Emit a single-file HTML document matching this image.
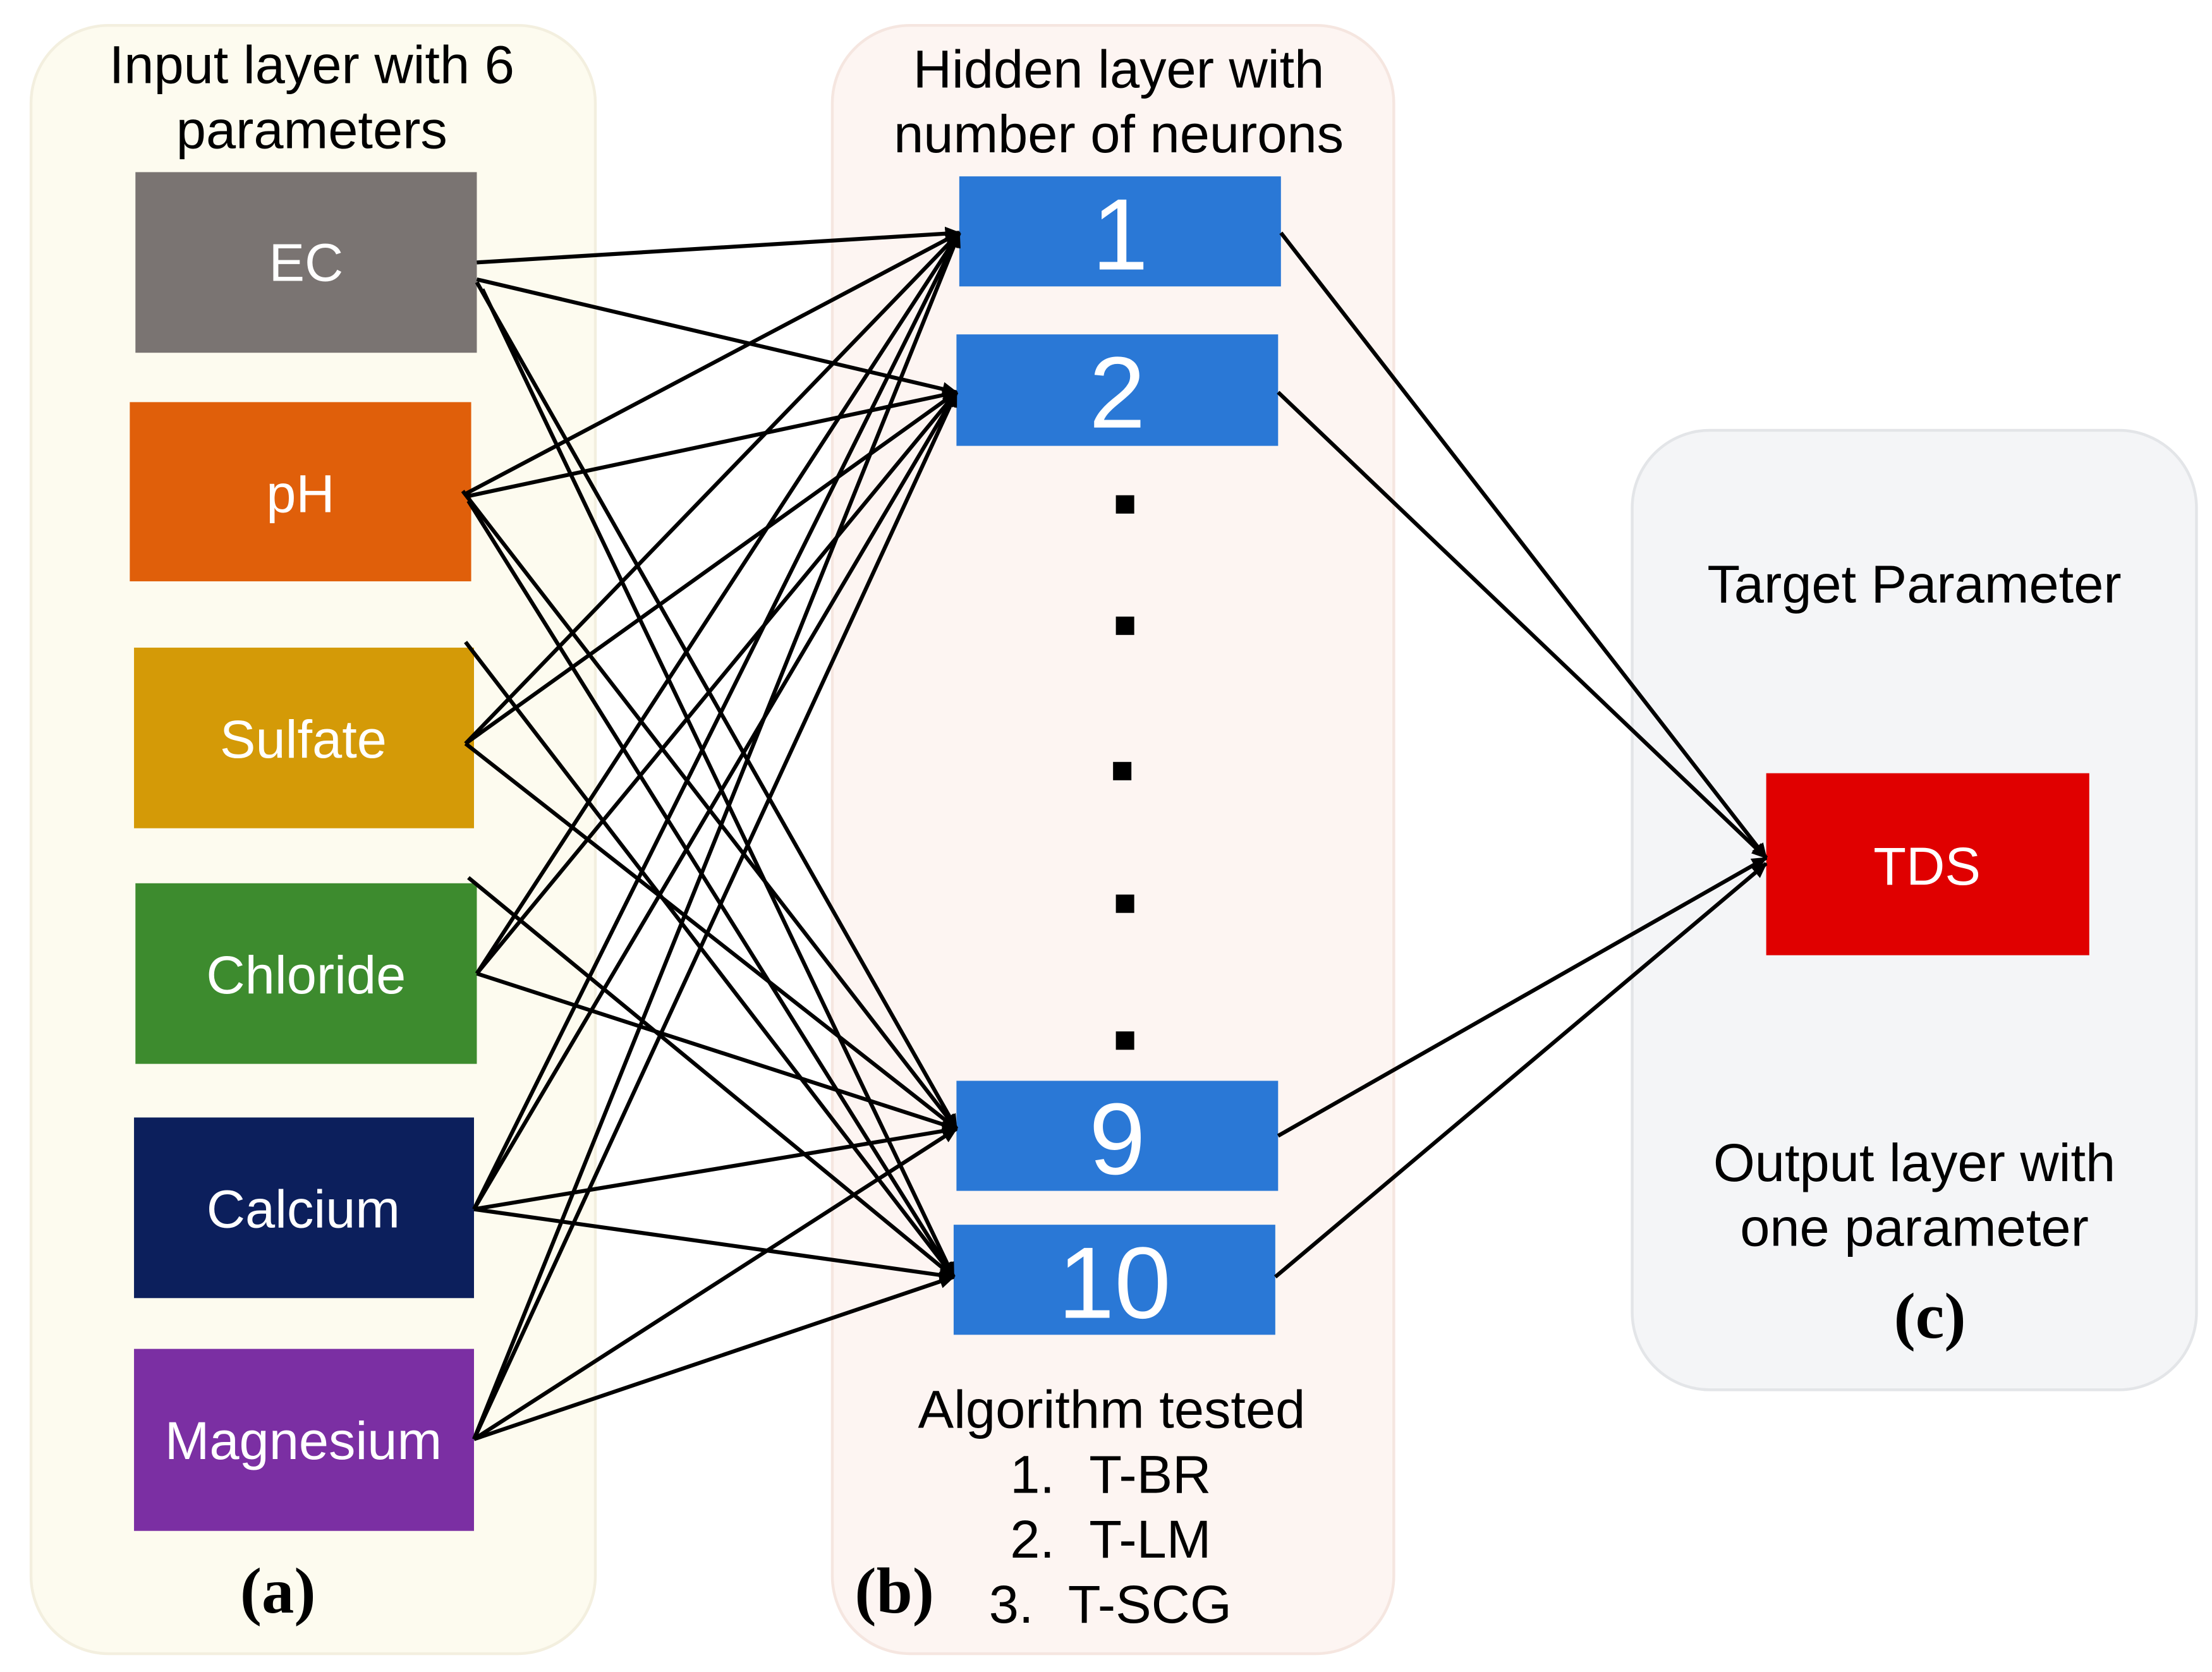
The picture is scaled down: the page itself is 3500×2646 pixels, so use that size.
<!DOCTYPE html>
<html><head><meta charset="utf-8"><style>
html,body{margin:0;padding:0;background:#fff;}
svg{display:block;}
text{font-family:"Liberation Sans",sans-serif;}
</style></head><body>
<svg width="3500" height="2646" viewBox="0 0 1568 1185" preserveAspectRatio="none" xmlns="http://www.w3.org/2000/svg">
<defs>
<marker id="ar" markerWidth="12" markerHeight="12" refX="10" refY="6" orient="auto" markerUnits="userSpaceOnUse">
<path d="M0,1 L11,6 L0,11 Z" fill="#000"/></marker>
</defs>
<rect x="0" y="0" width="1568" height="1185" fill="#fff"/>
<rect x="22" y="18" width="400" height="1154" rx="55" fill="#fdfbef" stroke="#f3efdf" stroke-width="2"/>
<rect x="590" y="18" width="398" height="1154" rx="55" fill="#fdf5f2" stroke="#f5e6e0" stroke-width="2"/>
<rect x="1157" y="305" width="400" height="680" rx="55" fill="#f4f5f7" stroke="#e3e5e8" stroke-width="2"/>

<g font-size="38" text-anchor="middle" fill="#000">
<text x="221" y="59">Input layer with 6</text>
<text x="221" y="105">parameters</text>
<text x="793" y="62">Hidden layer with</text>
<text x="793" y="108">number of neurons</text>
<text x="1357" y="427">Target Parameter</text>
<text x="1357" y="837">Output layer with</text>
<text x="1357" y="883">one parameter</text>
<text x="788" y="1012">Algorithm tested</text>
</g>
<g font-size="38" fill="#000">
<text x="716" y="1058">1.</text><text x="772" y="1058">T-BR</text>
<text x="716" y="1104">2.</text><text x="772" y="1104">T-LM</text>
<text x="701" y="1150">3.</text><text x="757" y="1150">T-SCG</text>
</g>
<g font-weight="bold" font-size="46" text-anchor="middle">
<text x="197" y="1143" style="font-family:'Liberation Serif',serif">(a)</text>
<text x="634" y="1143" style="font-family:'Liberation Serif',serif">(b)</text>
<text x="1368" y="948" style="font-family:'Liberation Serif',serif">(c)</text>
</g>

<rect x="96" y="122" width="242" height="128" fill="#7a7472"/>
<rect x="92" y="285" width="242" height="127" fill="#e05f0a"/>
<rect x="95" y="459" width="241" height="128" fill="#d49a07"/>
<rect x="96" y="626" width="242" height="128" fill="#3d8b2e"/>
<rect x="95" y="792" width="241" height="128" fill="#0c1f5c"/>
<rect x="95" y="956" width="241" height="129" fill="#7b2fa3"/>
<g font-size="38" fill="#fff" text-anchor="middle">
<text x="217" y="199">EC</text>
<text x="213" y="363">pH</text>
<text x="215" y="537">Sulfate</text>
<text x="217" y="704">Chloride</text>
<text x="215" y="870">Calcium</text>
<text x="215" y="1034">Magnesium</text>
</g>

<rect x="680" y="125" width="228" height="78" fill="#2a78d6"/>
<rect x="678" y="237" width="228" height="79" fill="#2a78d6"/>
<rect x="678" y="766" width="228" height="78" fill="#2a78d6"/>
<rect x="676" y="868" width="228" height="78" fill="#2a78d6"/>
<g font-size="72" fill="#fff" text-anchor="middle">
<text x="794" y="191">1</text>
<text x="792" y="303">2</text>
<text x="792" y="832">9</text>
<text x="790" y="934">10</text>
</g>
<g fill="#000">
<rect x="791" y="351" width="13" height="13"/>
<rect x="791" y="437" width="13" height="13"/>
<rect x="789" y="540" width="13" height="13"/>
<rect x="791" y="634" width="13" height="13"/>
<rect x="791" y="731" width="13" height="13"/>
</g>

<rect x="1252" y="548" width="229" height="129" fill="#e00000"/>
<text x="1366" y="627" font-size="38" fill="#fff" text-anchor="middle">TDS</text>

<g stroke="#000" stroke-width="2.8" fill="none" marker-end="url(#ar)">
<line x1="338" y1="186" x2="680" y2="165"/>
<line x1="338" y1="198" x2="678" y2="278"/>
<line x1="338" y1="200" x2="678" y2="800"/>
<line x1="342" y1="205" x2="676" y2="905"/>
<line x1="330" y1="350" x2="680" y2="165"/>
<line x1="330" y1="352" x2="678" y2="278"/>
<line x1="328" y1="348" x2="678" y2="800"/>
<line x1="332" y1="355" x2="676" y2="905"/>
<line x1="330" y1="527" x2="680" y2="165"/>
<line x1="330" y1="527" x2="678" y2="278"/>
<line x1="330" y1="527" x2="678" y2="800"/>
<line x1="330" y1="455" x2="676" y2="905"/>
<line x1="338" y1="690" x2="680" y2="165"/>
<line x1="338" y1="690" x2="678" y2="278"/>
<line x1="338" y1="690" x2="678" y2="800"/>
<line x1="332" y1="622" x2="676" y2="905"/>
<line x1="336" y1="857" x2="680" y2="165"/>
<line x1="336" y1="857" x2="678" y2="278"/>
<line x1="336" y1="857" x2="678" y2="800"/>
<line x1="336" y1="857" x2="676" y2="905"/>
<line x1="336" y1="1020" x2="680" y2="165"/>
<line x1="336" y1="1020" x2="678" y2="278"/>
<line x1="336" y1="1020" x2="678" y2="800"/>
<line x1="336" y1="1020" x2="676" y2="905"/>
<line x1="908" y1="165" x2="1252" y2="608"/>
<line x1="906" y1="278" x2="1252" y2="608"/>
<line x1="906" y1="805" x2="1252" y2="608"/>
<line x1="904" y1="905" x2="1252" y2="612"/>
</g>
</svg>
</body></html>
